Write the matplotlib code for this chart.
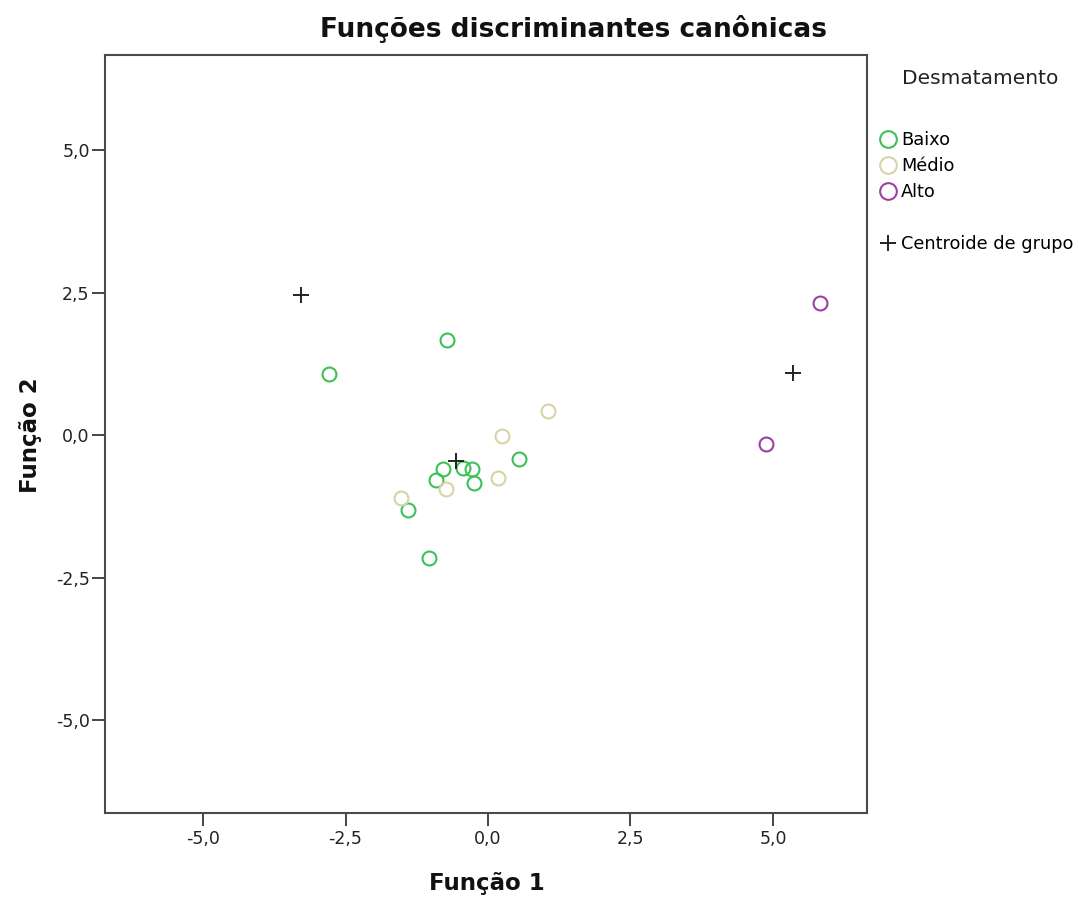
import matplotlib
matplotlib.use("Agg")
import matplotlib.pyplot as plt
from matplotlib.lines import Line2D

plt.rcParams['font.family'] = ['DejaVu Sans']

# Data
baixo_x = [-2.79, -0.72, 0.54, -0.79, -0.44, -0.28, -0.91, -0.25, -1.40, -1.03]
baixo_y = [1.07, 1.67, -0.42, -0.60, -0.58, -0.60, -0.79, -0.84, -1.32, -2.16]
medio_x = [1.05, 0.24, 0.18, -0.74, -1.52]
medio_y = [0.42, -0.02, -0.75, -0.95, -1.10]
alto_x = [5.82, 4.88]
alto_y = [2.32, -0.16]
centroid_x = [-3.28, -0.56, 5.35]
centroid_y = [2.46, -0.46, 1.09]

xticks = [-5.0, -2.5, 0.0, 2.5, 5.0]
yticks = [-5.0, -2.5, 0.0, 2.5, 5.0]
ticklabels = ['-5,0', '-2,5', '0,0', '2,5', '5,0']

c_baixo = '#3dc058'
c_medio = '#d8d3a3'
c_alto = '#9b40a2'

W, H = 1079, 899
fig = plt.figure(figsize=(W/100, H/100), dpi=100)
ax = fig.add_axes([105/W, 1-813/H, (867-105)/W, (813-55)/H])

ms = 10
mew = 1.5
ax.plot(baixo_x, baixo_y, 'o', ms=ms, mfc='none', mec=c_baixo, mew=mew, ls='none')
ax.plot(medio_x, medio_y, 'o', ms=ms, mfc='none', mec=c_medio, mew=mew, ls='none')
ax.plot(alto_x, alto_y, 'o', ms=ms, mfc='none', mec=c_alto, mew=mew, ls='none')
ax.plot(centroid_x, centroid_y, '+', ms=11, mec='#222222', mew=1.4, ls='none')

ax.set_xlim(-6.72, 6.65)
ax.set_ylim(-6.63, 6.67)
ax.set_xticks(xticks)
ax.set_xticklabels(ticklabels)
ax.set_yticks(yticks)
ax.set_yticklabels(ticklabels)
ax.tick_params(direction='out', length=9.5, width=1.4, labelsize=12.5,
               color='#444444', labelcolor='#222222')
ax.tick_params(axis='x', pad=2.5)
ax.tick_params(axis='y', pad=1.5)
for s in ax.spines.values():
    s.set_linewidth(1.5)
    s.set_color('#4a4a4a')

ax.set_xlabel('Função 1', fontsize=16.5, fontweight='bold', color='#111111')
ax.set_ylabel('Função 2', fontsize=16.5, fontweight='bold', color='#111111')
ax.xaxis.set_label_coords(487/W, 1-872/H, transform=fig.transFigure)
ax.yaxis.set_label_coords(42/W, 1-435/H, transform=fig.transFigure)

fig.text(573/W, 1-29/H, 'Funções discriminantes canônicas', fontsize=19,
         fontweight='bold', ha='center', va='center', color='#111111')

fig.text(980/W, 1-78/H, 'Desmatamento', fontsize=14.5, ha='center', va='center',
         color='#222222')

handles = [
    Line2D([], [], marker='o', ls='none', ms=12, mfc='none', mec=c_baixo, mew=mew),
    Line2D([], [], marker='o', ls='none', ms=12, mfc='none', mec=c_medio, mew=mew),
    Line2D([], [], marker='o', ls='none', ms=12, mfc='none', mec=c_alto, mew=mew),
    Line2D([], [], ls='none'),
    Line2D([], [], marker='+', ls='none', ms=12, mec='#222222', mew=1.4),
]
labels = ['Baixo', 'Médio', 'Alto', '', 'Centroide de grupo']
fig.legend(handles, labels, loc='upper left', bbox_to_anchor=(880/W, 1-131/H),
           frameon=False, fontsize=12.8, handlelength=0.9, handletextpad=0.3,
           labelspacing=0.45, borderpad=0, borderaxespad=0)

fig.savefig('out.png', dpi=100)
